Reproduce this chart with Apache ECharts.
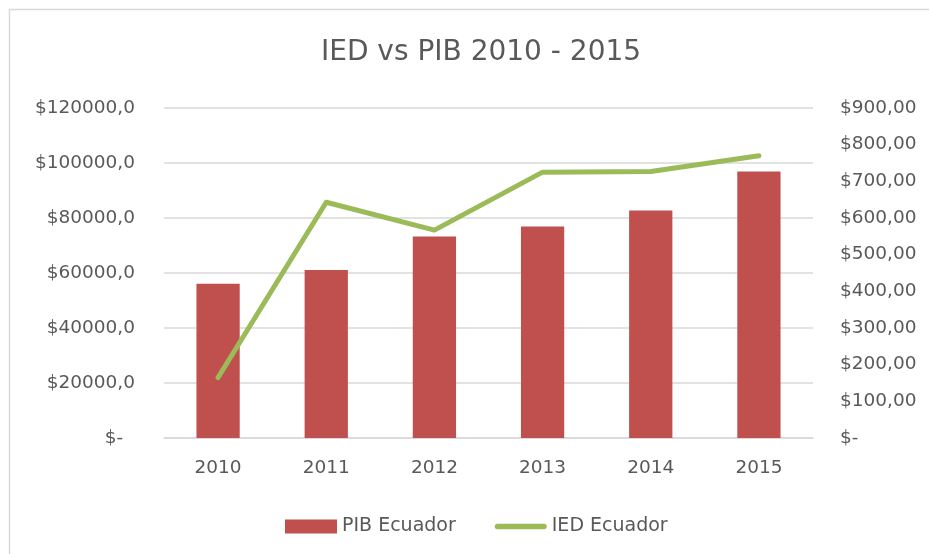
<!DOCTYPE html>
<html>
<head>
<meta charset="utf-8">
<script src="https://cdn.jsdelivr.net/npm/echarts@6/dist/echarts.min.js"></script>
<style>html,body{margin:0;padding:0;background:#fff}#c{width:929px;height:554px}</style>
</head>
<body>
<div id="c"></div>
<script>
var titleText = 'IED vs PIB 2010 - 2015';
var years = ['2010', '2011', '2012', '2013', '2014', '2015'];
var pibEcuador = [56100, 61100, 73300, 76900, 82700, 96900];
var iedEcuador = [165, 643, 567, 725, 727, 770];
var seriesNames = ['PIB Ecuador', 'IED Ecuador'];

var FONT = 'DejaVu Sans';
var TXT = '#595959';
var chart = echarts.init(document.getElementById('c'));
chart.setOption({
  animation: false,
  backgroundColor: '#fff',
  textStyle: { fontFamily: FONT },
  title: {
    text: titleText,
    left: 476,
    textAlign: 'center',
    top: 34,
    textStyle: { fontFamily: FONT, fontSize: 28, fontWeight: 'normal', color: TXT }
  },
  graphic: [{
    type: 'rect',
    silent: true,
    shape: { x: 9.5, y: 9.5, width: 940, height: 570 },
    style: { fill: 'none', stroke: '#d9d9d9', lineWidth: 1.5 }
  }],
  legend: {
    left: 280,
    top: 512,
    itemWidth: 52,
    itemHeight: 14,
    itemGap: 39,
    textStyle: { fontFamily: FONT, fontSize: 19, color: TXT },
    data: [
      { name: seriesNames[0], icon: 'rect' },
      { name: seriesNames[1], icon: 'path://M3,0 L53,0 A3,3 0 0 1 53,6 L3,6 A3,3 0 0 1 3,0 Z', itemStyle: { color: '#9BBB59' } }
    ]
  },
  grid: { left: 164, right: 116, top: 108, bottom: 116, containLabel: false },
  xAxis: {
    type: 'category',
    data: years,
    axisTick: { show: false },
    axisLine: { lineStyle: { color: '#d9d9d9', width: 1.5 } },
    axisLabel: { fontFamily: FONT, fontSize: 18.5, color: TXT, margin: 21 }
  },
  yAxis: [{
    type: 'value',
    min: 0, max: 120000, interval: 20000,
    axisLine: { show: false },
    axisTick: { show: false },
    splitLine: { lineStyle: { color: '#d9d9d9', width: 1.5 } },
    axisLabel: {
      fontFamily: FONT, fontSize: 18.5, color: TXT, margin: 29,
      formatter: function (v) { return v === 0 ? '$-  ' : '$' + v + ',0'; }
    }
  }, {
    type: 'value',
    position: 'right',
    min: 0, max: 900, interval: 100,
    axisLine: { show: false },
    axisTick: { show: false },
    splitLine: { show: false },
    axisLabel: {
      fontFamily: FONT, fontSize: 18.5, color: TXT, margin: 27,
      formatter: function (v) { return v === 0 ? '$-' : '$' + v + ',00'; }
    }
  }],
  series: [{
    name: seriesNames[0],
    type: 'bar',
    data: pibEcuador,
    barWidth: '40%',
    itemStyle: { color: '#C0504D' }
  }, {
    name: seriesNames[1],
    type: 'line',
    yAxisIndex: 1,
    data: iedEcuador,
    symbol: 'none',
    showSymbol: false,
    z: 5,
    lineStyle: { color: '#9BBB59', width: 5, cap: 'round', join: 'round' },
    itemStyle: { color: '#9BBB59' }
  }]
});
</script>
</body>
</html>
